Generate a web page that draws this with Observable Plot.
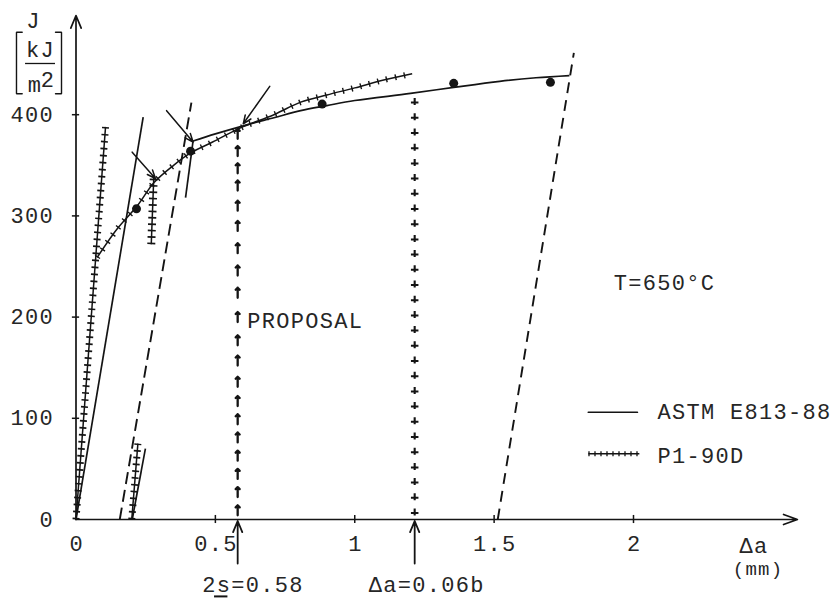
<!DOCTYPE html>
<html>
<head>
<meta charset="utf-8">
<script src="https://cdn.jsdelivr.net/npm/d3@7"></script>
<script src="https://cdn.jsdelivr.net/npm/@observablehq/plot@0.6"></script>
<style>
  html, body { margin: 0; padding: 0; background: #fff; }
</style>
</head>
<body>
<div id="chart"></div>
<script>
// ---------------- data ----------------
// axis ticks and labels
const xTickVals = [0.5, 1, 1.5, 2];
const xLabelVals = [0, 0.5, 1, 1.5, 2];
const yTickVals = [100, 200, 300, 400];
const yLabelVals = [0, 100, 200, 300, 400];
const xAxisEnd = 2.588;   // Δa (mm) where the x-axis arrow ends
const yAxisEnd = 498;     // J where the y-axis arrow ends

// ASTM E813-88 fitted R-curve (solid)
const astmCurveDa = [0.42, 0.5, 0.6, 0.71, 0.806, 0.9, 1.0, 1.2, 1.355, 1.52, 1.65, 1.77];
const astmCurveJ  = [374, 381, 389, 397, 404, 409, 414, 421, 427, 433, 436.5, 438.7];

// P1-90D R-curve (ticked line)
const p1CurveDa = [0.076, 0.15, 0.22, 0.28, 0.35, 0.41, 0.49, 0.59, 0.71, 0.806, 0.9, 1.0, 1.1, 1.206];
const p1CurveJ  = [259, 288, 310, 333, 350, 362, 373, 387, 400, 412.4, 419.5, 426.5, 434, 440.5];

// measured J–Δa points
const pointDa = [0.217, 0.411, 0.883, 1.355, 1.702];
const pointJ  = [307, 364, 410.5, 431, 432];

// ASTM construction lines
const astmBluntDa = [0, 0.241],      astmBluntJ = [0, 397.5];
const excl015Da = [0.157, 0.414],    excl015J = [0, 412];
const excl15Da = [1.513, 1.786],     excl15J = [0, 461];
const astmOffLowDa = [0.2016, 0.249], astmOffLowJ = [0, 70];
const astmOffHighDa = [0.393, 0.42],  astmOffHighJ = [318, 374];

// P1-90D construction lines
const p1BluntDa = [0, 0.106],        p1BluntJ = [0, 388];
const p1OffLowDa = [0.2, 0.222],     p1OffLowJ = [0, 75];
const p1OffHighDa = [0.27, 0.279],   p1OffHighJ = [272, 338];

// limits
const twoS = 0.58;          // 2s = 0.58
const limit006b = 1.215;    // Δa = 0.06b
const limit006bTopJ = 421;
const arrowColumnJ = [14, 32, 50, 68, 86, 104, 122, 141, 162, 182, 205, 229, 251, 273, 295, 315, 335, 352, 369, 386];

// ---------------- helpers ----------------
const pts = (xs, js) => xs.map((x, i) => ({x, J: js[i]}));
const ink = "#141414";
const textInk = "#262626";
const font = "Liberation Mono";
const fs = 22;

function solid(data, extra = {}) {
  return Plot.line(data, {x: "x", y: "J", stroke: ink, strokeWidth: 1.7, strokeLinecap: "butt", ...extra});
}
function ticked(data, w, dash, extra = {}) {
  return [
    Plot.line(data, {x: "x", y: "J", stroke: ink, strokeWidth: 1.5, strokeLinecap: "butt", ...extra}),
    Plot.line(data, {x: "x", y: "J", stroke: ink, strokeWidth: w, strokeDasharray: dash, strokeLinecap: "butt", ...extra})
  ];
}
function label(text, x, J, opts = {}) {
  return Plot.text([text], {x: () => x, y: () => J, text: d => d, fill: textInk, fontFamily: font, fontSize: fs, ...opts});
}

const chart = Plot.plot({
  width: 837,
  height: 598,
  marginLeft: 75.5,
  marginRight: 36.75,
  marginTop: 13,
  marginBottom: 79,
  x: {domain: [0, 2.6], axis: null},
  y: {domain: [0, 500], axis: null},
  style: "font-family: 'Liberation Mono', monospace; letter-spacing: 1.3px; background: #fff;",
  marks: [
    // exclusion lines (dashed)
    Plot.line(pts(excl015Da, excl015J), {x: "x", y: "J", stroke: ink, strokeWidth: 1.9, strokeDasharray: "12,6", strokeLinecap: "butt"}),
    Plot.line(pts(excl15Da, excl15J), {x: "x", y: "J", stroke: ink, strokeWidth: 1.9, strokeDasharray: "11,7", strokeLinecap: "butt"}),

    // ASTM blunting and 0.2 offset lines
    solid(pts(astmBluntDa, astmBluntJ)),
    solid(pts(astmOffLowDa, astmOffLowJ)),
    solid(pts(astmOffHighDa, astmOffHighJ)),

    // P1-90D blunting and offset lines (ticked)
    ...ticked(pts(p1BluntDa, p1BluntJ), 7, "1.7,5.3"),
    ...ticked(pts(p1OffLowDa, p1OffLowJ), 7, "1.7,5.1"),
    ...ticked(pts(p1OffHighDa, p1OffHighJ), 8, "1.7,4.7"),

    // R-curves
    solid(pts(astmCurveDa, astmCurveJ), {curve: "catmull-rom"}),
    ...ticked(pts(p1CurveDa, p1CurveJ), 6, "1.4,7.6", {curve: "catmull-rom"}),

    // measured points
    Plot.dot(pts(pointDa, pointJ), {x: "x", y: "J", r: 4.5, fill: ink, stroke: null}),

    // Δa = 0.06b column of "+"
    Plot.ruleX([limit006b], {x: d => d, y1: 0, y2: limit006bTopJ, stroke: ink, strokeWidth: 2.1, strokeDasharray: "7,8.2", strokeDashoffset: 11.7, strokeLinecap: "butt"}),
    Plot.ruleX([limit006b], {x: d => d, y1: 0, y2: limit006bTopJ, stroke: ink, strokeWidth: 7.5, strokeDasharray: "2,13.2", strokeDashoffset: 10.2, strokeLinecap: "butt"}),

    // 2s column of arrows
    Plot.vector(arrowColumnJ, {x: () => twoS, y: d => d, length: 10, rotate: 0, anchor: "end", stroke: ink, strokeWidth: 2.3}),

    // arrows below the axis
    Plot.arrow([twoS, limit006b], {x1: d => d, x2: d => d, y1: -43.5, y2: -1.5, stroke: ink, strokeWidth: 1.8, headLength: 10, headAngle: 45}),

    // annotation arrows pointing at the intersections
    Plot.arrow([
      {x1: 0.2016, J1: 363, x2: 0.285, J2: 337},
      {x1: 0.325, J1: 404, x2: 0.42, J2: 373},
      {x1: 0.695, J1: 428, x2: 0.6, J2: 391}
    ], {x1: "x1", y1: "J1", x2: "x2", y2: "J2", stroke: ink, strokeWidth: 1.5, headLength: 9, headAngle: 45}),

    // axes
    Plot.arrow([0], {x1: 0, y1: 0, x2: xAxisEnd, y2: 0, stroke: ink, strokeWidth: 1.7, headLength: 13, headAngle: 40}),
    Plot.arrow([0], {x1: 0, y1: 0, x2: 0, y2: yAxisEnd, stroke: ink, strokeWidth: 1.7, headLength: 12, headAngle: 45}),
    Plot.ruleX(xTickVals, {x: d => d, y1: -4, y2: 4, stroke: ink, strokeWidth: 1.5}),
    Plot.ruleY(yTickVals, {y: d => d, x1: -0.013, x2: 0.013, stroke: ink, strokeWidth: 1.5}),

    // tick labels
    Plot.text(xLabelVals, {x: d => d, y: () => -23.7, text: d => String(d), dx: 0.7, fill: textInk, fontFamily: font, fontSize: fs}),
    Plot.text(yLabelVals, {x: () => 0, y: d => d, text: d => String(d), textAnchor: "end", dx: -22, fill: textInk, fontFamily: font, fontSize: fs}),

    // y-axis title: J [kJ/m2]
    label("J", -0.1525, 493),
    label("kJ", -0.1274, 464.4),
    Plot.ruleY([450.6], {y: d => d, x1: -0.181, x2: -0.0735, stroke: ink, strokeWidth: 1.3}),
    label("m", -0.147, 429.8),
    label("2", -0.1004, 434.3),
    Plot.line([
      {x: -0.193, J: 481.5, g: "l"}, {x: -0.2135, J: 481.5, g: "l"}, {x: -0.2135, J: 420.7, g: "l"}, {x: -0.193, J: 420.7, g: "l"},
      {x: -0.0735, J: 481.5, g: "r"}, {x: -0.052, J: 481.5, g: "r"}, {x: -0.052, J: 420.7, g: "r"}, {x: -0.0735, J: 420.7, g: "r"}
    ], {x: "x", y: "J", z: "g", stroke: ink, strokeWidth: 1.4, strokeLinejoin: "miter"}),

    // x-axis title
    label("Δa", 2.432, -25.7),
    label("(mm)", 2.447, -48.7, {fontSize: 19}),

    // annotations
    label("PROPOSAL", 0.614, 196.6, {textAnchor: "start"}),
    label("T=650°C", 1.929, 233.7, {textAnchor: "start"}),
    label("2s=0.58", 0.4527, -64.7, {textAnchor: "start"}),
    Plot.ruleY([-76], {y: d => d, x1: 0.497, x2: 0.545, stroke: ink, strokeWidth: 2}),
    label("Δa=0.06b", 1.050, -64.7, {textAnchor: "start"}),

    // legend
    Plot.line([{x: 1.838, J: 106}, {x: 2.014, J: 106}], {x: "x", y: "J", stroke: ink, strokeWidth: 1.7}),
    label("ASTM E813-88", 2.086, 106, {textAnchor: "start"}),
    ...ticked([{x: 1.838, J: 65}, {x: 2.021, J: 65}], 5, "1.3,4.7"),
    label("P1-90D", 2.086, 63, {textAnchor: "start"})
  ]
});

document.getElementById("chart").append(chart);
</script>
</body>
</html>
